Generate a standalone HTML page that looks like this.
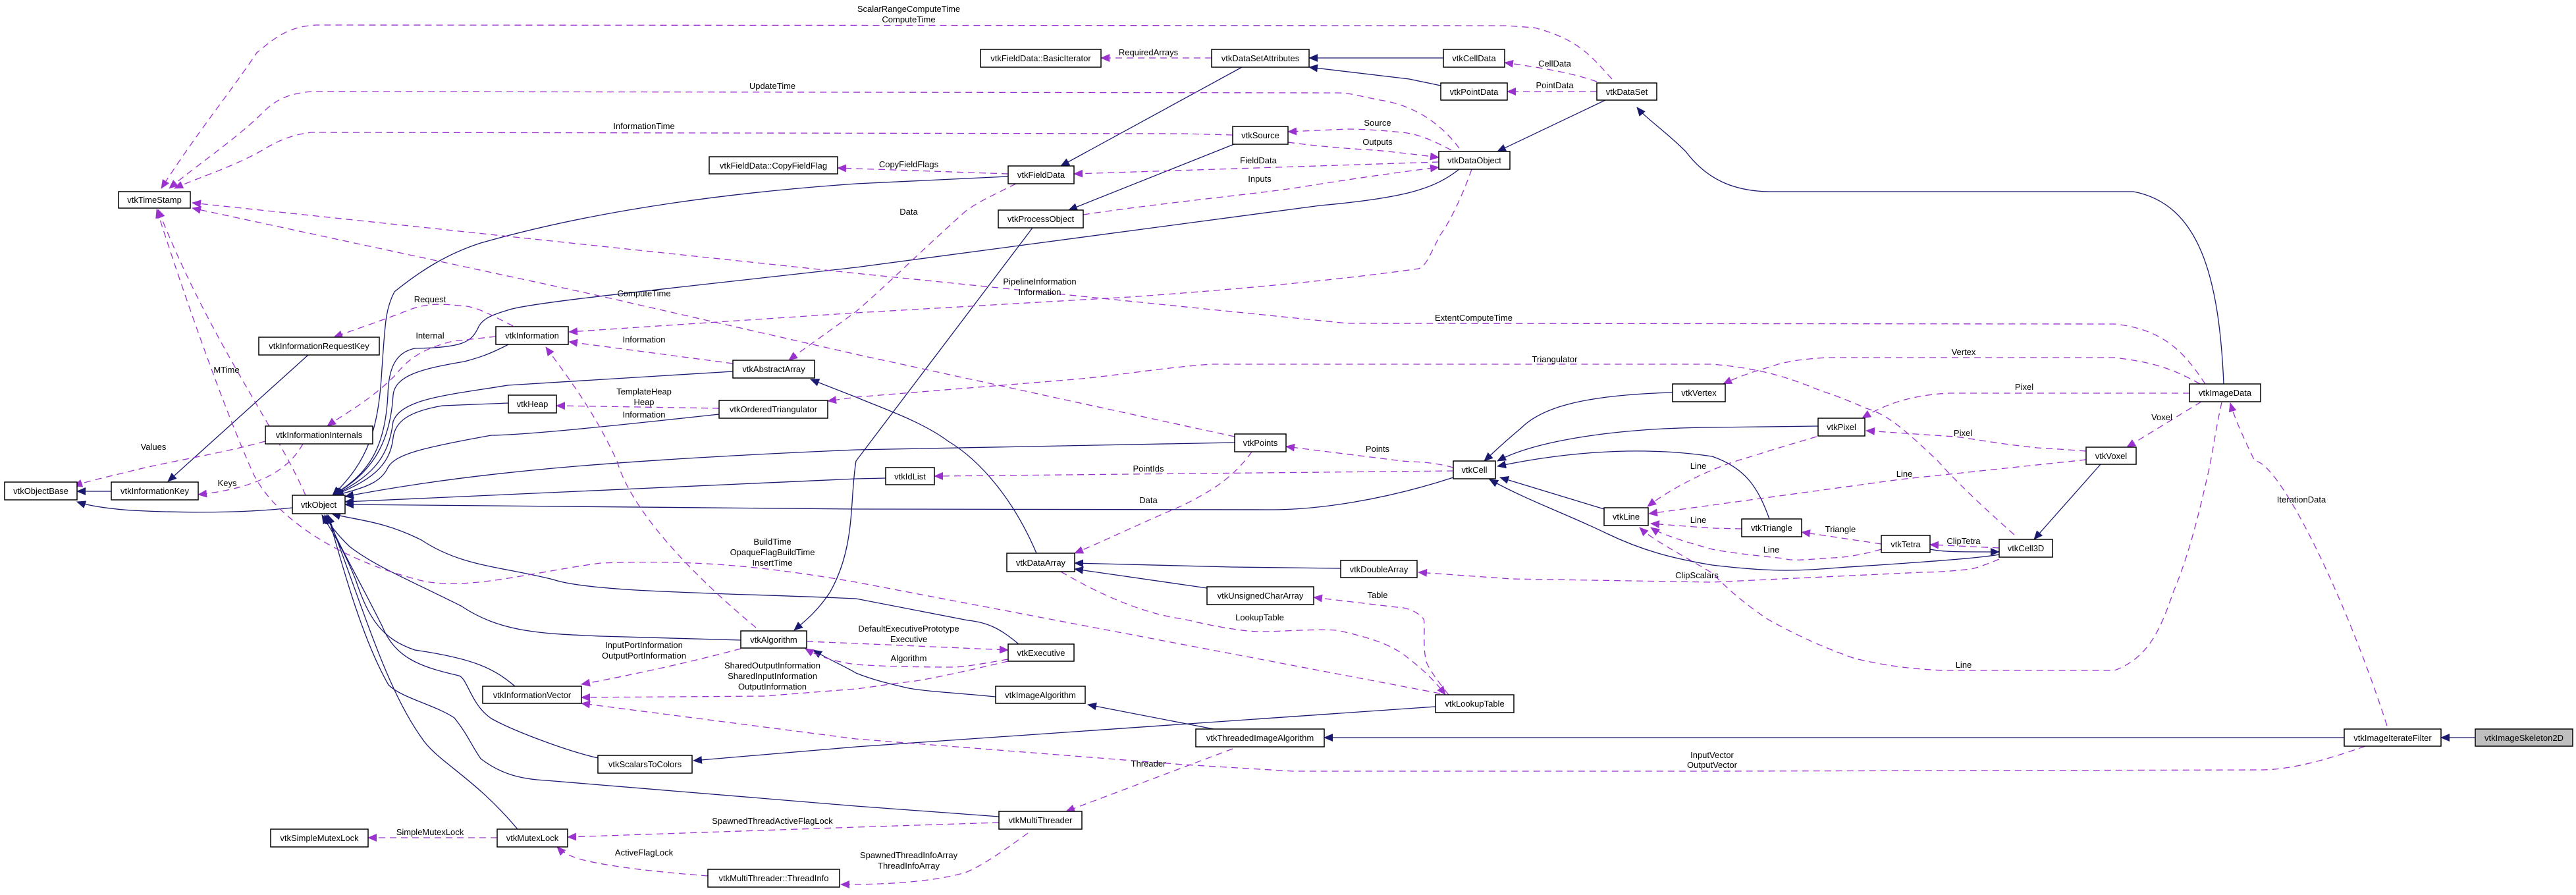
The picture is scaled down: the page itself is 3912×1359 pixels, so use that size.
<!DOCTYPE html>
<html><head><meta charset="utf-8"><style>
html,body{margin:0;padding:0;background:#fff;}
svg{display:block;}
text{font-family:"Liberation Sans",Arial,sans-serif;font-size:13px;fill:#000;}
.n{fill:#fff;stroke:#000;stroke-width:1.5;}
.b{fill:none;stroke:#191970;stroke-width:1.3;marker-end:url(#ab);}
.p{fill:none;stroke:#9a32cd;stroke-width:1.3;stroke-dasharray:10,7;marker-end:url(#ap);}
</style></head><body>
<svg width="3912" height="1359" viewBox="0 0 3912 1359" xmlns="http://www.w3.org/2000/svg">
<defs>
<marker id="ab" markerUnits="userSpaceOnUse" markerWidth="14" markerHeight="12" refX="13" refY="6" orient="auto"><path d="M0,0 L14,6 L0,12 z" fill="#191970"/></marker>
<marker id="ap" markerUnits="userSpaceOnUse" markerWidth="14" markerHeight="12" refX="13" refY="6" orient="auto"><path d="M0,0 L14,6 L0,12 z" fill="#9a32cd"/></marker>
</defs>

<!-- blue inheritance edges -->
<g>
<path class="b" d="M444,771 C380,778 300,780 200,775 C160,772 135,768 117,762"/>
<path class="b" d="M169,746 L117,746"/>
<path class="b" d="M468,539 L255,731"/>
<path class="b" d="M1531,268 L1300,279 C1000,300 821,343 730,369 C680,385 640,410 599,443 C585,470 585,491 580,560 C575,650 560,700 505,752"/>
<path class="b" d="M2216,257 C2180,285 2140,300 2005,312 L1300,406 C1000,440 800,460 771,471 C740,480 730,487 725,500 C715,520 700,528 630,529 C600,535 590,560 589,600 C585,680 560,720 505,752"/>
<path class="b" d="M772,523 C740,540 720,545 705,549 C640,560 600,570 597,600 C592,680 560,720 506,752"/>
<path class="b" d="M1113,564 L771,585 C680,600 610,605 597,640 C590,700 560,725 507,752"/>
<path class="b" d="M772,612 L672,616 C620,625 600,640 597,665 C592,710 560,730 508,752"/>
<path class="b" d="M1092,629 C900,650 800,660 746,661 C640,680 600,690 589,710 C580,730 560,740 509,752"/>
<path class="b" d="M1568,346 L1300,700 C1290,760 1300,830 1260,900 C1240,930 1220,945 1206,957"/>
<path class="b" d="M1874,219 L1623,319"/>
<path class="b" d="M1886,102 L1611,252"/>
<path class="b" d="M2192,88 L1988,88"/>
<path class="b" d="M2188,130 L2140,120 L1988,102"/>
<path class="b" d="M2438,152 L2274,230"/>
<path class="b" d="M3377,583 C3370,420 3340,310 3240,291 L2690,291 C2630,291 2590,270 2560,230 C2530,200 2500,180 2486,163"/>
<path class="b" d="M1345,726 L1300,727 L524,762"/>
<path class="b" d="M1875,672 L1300,683 C900,700 700,720 524,754"/>
<path class="b" d="M2207,725 C2100,760 2000,774 1930,774 L1300,773 L524,766"/>
<path class="b" d="M1574,840 C1540,760 1490,700 1440,670 C1400,640 1340,620 1300,603 L1231,576"/>
<path class="b" d="M2036,863 L1870,861 L1632,855"/>
<path class="b" d="M1833,893 L1632,864"/>
<path class="b" d="M2540,596 C2400,600 2340,620 2310,650 C2280,675 2265,690 2254,700"/>
<path class="b" d="M2761,647 L2600,649 C2450,650 2330,670 2274,700"/>
<path class="b" d="M2687,788 C2670,740 2650,710 2600,693 C2480,675 2360,690 2274,708"/>
<path class="b" d="M2436,773 L2278,725"/>
<path class="b" d="M3036,842 C3000,849 2850,858 2792,862 C2740,866 2700,870 2600,858 C2540,848 2494,836 2440,810 C2378,780 2320,760 2262,728"/>
<path class="b" d="M3190,705 L3089,819"/>
<path class="b" d="M2931,834 C2950,838 2968,838 3036,838"/>
<path class="b" d="M1547,978 C1520,955 1500,945 1470,942 L1300,909 C1100,900 900,900 840,880 C760,860 700,860 640,820 C580,790 540,790 504,780"/>
<path class="b" d="M1125,972 L912,966 C820,962 760,960 700,920 C620,880 570,860 531,830 C510,810 500,795 493,782"/>
<path class="b" d="M782,1042 C750,1015 720,1000 630,987 C580,970 560,940 540,880 C520,830 500,800 489,782"/>
<path class="b" d="M908,1151 C860,1140 780,1110 746,1091 C715,1070 710,1030 697,1026 C640,1013 600,1000 580,950 C540,870 510,820 496,782"/>
<path class="b" d="M1517,1240 L1300,1224 L829,1185 C790,1183 760,1175 730,1152 C715,1130 710,1115 690,1090 C660,1070 610,1060 590,1040 C550,970 520,860 498,782"/>
<path class="b" d="M786,1259 C720,1180 663,1156 640,1120 C590,1050 560,950 498,782"/>
<path class="b" d="M1512,1058 C1450,1052 1408,1050 1380,1045 C1340,1036 1320,1030 1300,1022 C1280,1010 1255,1000 1235,987"/>
<path class="b" d="M2180,1073 L1300,1134 L1053,1155"/>
<path class="b" d="M1843,1107 L1652,1070"/>
<path class="b" d="M3560,1120 L2011,1120"/>
<path class="b" d="M3759,1120 L3707,1120"/>
</g>

<!-- purple usage edges -->
<g>
<path class="p" d="M2448,120 C2420,90 2400,60 2330,42 L2287,39 L481,38 C440,40 420,55 390,80 C350,140 300,200 245,286"/>
<path class="p" d="M2216,225 C2190,190 2150,160 2096,152 C2060,145 2050,141 2030,141 L473,139 C440,142 420,150 400,170 C360,210 300,250 257,286"/>
<path class="p" d="M1872,205 L1797,203 L473,201 C440,205 420,215 395,230 C350,255 300,270 265,286"/>
<path class="p" d="M1875,663 L1300,538 L896,446 L292,316"/>
<path class="p" d="M3349,583 C3320,540 3290,500 3211,492 L2046,491 L1300,415 L292,308"/>
<path class="p" d="M464,752 C420,650 320,520 240,318"/>
<path class="p" d="M2187,1053 L1300,884 C1150,858 1050,850 912,855 C800,870 700,900 630,879 C520,850 420,790 385,720 C340,620 280,450 238,318"/>
<path class="p" d="M460,674 C440,710 400,740 301,751"/>
<path class="p" d="M403,670 C330,690 260,700 200,715 C160,725 135,730 112,738"/>
<path class="p" d="M779,495 C740,475 720,464 697,464 C660,460 640,462 610,475 C570,490 540,500 507,512"/>
<path class="p" d="M753,511 L688,518 C640,530 620,545 600,570 C560,610 520,630 497,647"/>
<path class="p" d="M1113,552 L864,519"/>
<path class="p" d="M2235,257 C2220,300 2200,340 2187,357 C2170,390 2165,405 2154,408 C2000,430 1800,445 1715,451 L1300,475 L864,504"/>
<path class="p" d="M1543,279 C1500,300 1480,310 1466,321 C1400,380 1350,430 1300,473 C1250,510 1220,530 1198,547"/>
<path class="p" d="M1092,620 L845,616"/>
<path class="p" d="M1148,953 C1060,880 960,780 937,700 C900,620 860,570 829,527"/>
<path class="p" d="M3059,812 C3000,760 2960,720 2943,700 C2900,660 2870,630 2834,620 C2800,605 2780,598 2767,594 C2720,575 2680,560 2600,553 L1839,553 C1750,560 1700,570 1632,576 L1300,603 L1257,609"/>
<path class="p" d="M3341,583 C3300,560 3270,550 3211,543 L2776,543 C2730,545 2700,552 2692,556 C2660,565 2640,572 2617,583"/>
<path class="p" d="M3325,597 L2960,597 C2900,600 2860,615 2828,635"/>
<path class="p" d="M3168,685 C3130,682 3110,681 3094,680 C3020,672 2990,665 2968,663 L2834,654"/>
<path class="p" d="M3343,610 L3230,679"/>
<path class="p" d="M3168,698 L2885,728 L2600,767 L2504,780"/>
<path class="p" d="M2759,663 C2700,680 2670,690 2650,696 C2600,710 2540,740 2502,769"/>
<path class="p" d="M2645,803 L2600,802 L2507,795"/>
<path class="p" d="M2857,834 C2820,845 2790,847 2784,847 C2740,850 2720,852 2709,848 C2650,842 2620,838 2600,834 C2550,820 2520,810 2507,801"/>
<path class="p" d="M3374,611 C3365,650 3360,690 3353,720 C3335,800 3320,853 3300,900 C3280,960 3260,1000 3211,1018 L2951,1018 C2880,1015 2840,1005 2817,1000 C2760,980 2720,960 2684,940 C2640,910 2620,890 2600,870 C2550,840 2510,820 2490,801"/>
<path class="p" d="M3036,849 C3010,860 2995,864 2993,864 C2960,868 2930,869 2918,869 L2600,884 L2295,879 L2154,869"/>
<path class="p" d="M2857,826 L2736,808"/>
<path class="p" d="M3036,832 L2931,827"/>
<path class="p" d="M2207,710 C2170,700 2150,702 2129,700 L1953,678"/>
<path class="p" d="M2207,715 L1419,723"/>
<path class="p" d="M1901,686 C1870,730 1830,750 1797,767 C1720,800 1680,820 1632,840"/>
<path class="p" d="M2200,1055 C2180,1030 2170,1015 2166,1005 C2160,980 2165,950 2162,940 C2150,925 2130,922 2121,922 L1995,907"/>
<path class="p" d="M1611,868 C1700,920 1760,935 1797,940 C1860,955 1900,960 1922,959 C1960,958 2000,955 2030,957 C2090,970 2110,980 2129,992 C2160,1015 2180,1035 2195,1055"/>
<path class="p" d="M1225,974 L1300,977 L1531,987"/>
<path class="p" d="M1531,1001 C1490,1008 1470,1012 1449,1013 C1400,1013 1340,1012 1300,1009 C1270,1005 1245,998 1223,985"/>
<path class="p" d="M1125,985 C1050,1005 960,1025 883,1039"/>
<path class="p" d="M1531,1004 C1470,1018 1420,1030 1383,1035 C1340,1040 1320,1044 1300,1046 L1161,1057 L883,1059"/>
<path class="p" d="M3592,1133 C3530,1155 3480,1168 3437,1169 L2600,1171 L1963,1171 L1797,1161 L1300,1122 L883,1068"/>
<path class="p" d="M3625,1102 C3560,900 3460,700 3424,700 C3410,670 3395,640 3387,612"/>
<path class="p" d="M1872,1137 L1619,1232"/>
<path class="p" d="M1517,1249 L1300,1256 L862,1271"/>
<path class="p" d="M755,1272 L559,1272"/>
<path class="p" d="M1075,1330 C1010,1325 990,1322 978,1321 C930,1315 900,1310 879,1304 C860,1298 852,1292 846,1286"/>
<path class="p" d="M1561,1265 C1520,1295 1490,1315 1466,1325 C1420,1338 1360,1342 1300,1343 L1277,1343"/>
<path class="p" d="M2204,228 C2170,210 2150,203 2129,201 C2090,197 2060,196 2046,196 L1956,200"/>
<path class="p" d="M1956,216 C2000,222 2050,226 2088,228 C2130,232 2160,236 2185,239"/>
<path class="p" d="M2185,246 L1631,264"/>
<path class="p" d="M1645,326 C1750,310 1900,295 1963,286 C2050,272 2120,262 2185,254"/>
<path class="p" d="M1531,264 L1300,256 L1272,255"/>
<path class="p" d="M1840,88 L1672,88"/>
<path class="p" d="M2425,124 C2380,108 2320,100 2285,95"/>
<path class="p" d="M2425,139 L2289,139"/>
</g>

<!-- nodes -->
<g>
<rect class="n" x="180" y="291" width="109" height="25"/><text x="234.5" y="308" text-anchor="middle">vtkTimeStamp</text>
<rect class="n" x="1077" y="238" width="195" height="26"/><text x="1174.5" y="256" text-anchor="middle">vtkFieldData::CopyFieldFlag</text>
<rect class="n" x="753" y="496" width="110" height="27"/><text x="808" y="514" text-anchor="middle">vtkInformation</text>
<rect class="n" x="393" y="512" width="183" height="27"/><text x="484.5" y="530" text-anchor="middle">vtkInformationRequestKey</text>
<rect class="n" x="1113" y="547" width="124" height="27"/><text x="1175" y="565" text-anchor="middle">vtkAbstractArray</text>
<rect class="n" x="772" y="600" width="73" height="27"/><text x="808.5" y="618" text-anchor="middle">vtkHeap</text>
<rect class="n" x="1092" y="608" width="165" height="27"/><text x="1174.5" y="626" text-anchor="middle">vtkOrderedTriangulator</text>
<rect class="n" x="403" y="647" width="163" height="27"/><text x="484.5" y="665" text-anchor="middle">vtkInformationInternals</text>
<rect class="n" x="1489" y="75" width="183" height="27"/><text x="1580.5" y="93" text-anchor="middle">vtkFieldData::BasicIterator</text>
<rect class="n" x="1840" y="75" width="148" height="27"/><text x="1914" y="93" text-anchor="middle">vtkDataSetAttributes</text>
<rect class="n" x="2192" y="75" width="93" height="27"/><text x="2238.5" y="93" text-anchor="middle">vtkCellData</text>
<rect class="n" x="2188" y="126" width="101" height="26"/><text x="2238.5" y="144" text-anchor="middle">vtkPointData</text>
<rect class="n" x="2425" y="126" width="91" height="26"/><text x="2470.5" y="144" text-anchor="middle">vtkDataSet</text>
<rect class="n" x="1872" y="192" width="84" height="27"/><text x="1914" y="210" text-anchor="middle">vtkSource</text>
<rect class="n" x="2185" y="230" width="108" height="27"/><text x="2239" y="248" text-anchor="middle">vtkDataObject</text>
<rect class="n" x="1531" y="252" width="100" height="27"/><text x="1581" y="270" text-anchor="middle">vtkFieldData</text>
<rect class="n" x="1516" y="319" width="129" height="27"/><text x="1580.5" y="337" text-anchor="middle">vtkProcessObject</text>
<rect class="n" x="1875" y="659" width="78" height="27"/><text x="1914" y="677" text-anchor="middle">vtkPoints</text>
<rect class="n" x="2540" y="583" width="80" height="27"/><text x="2580" y="601" text-anchor="middle">vtkVertex</text>
<rect class="n" x="3325" y="583" width="108" height="27"/><text x="3379" y="601" text-anchor="middle">vtkImageData</text>
<rect class="n" x="2761" y="635" width="71" height="27"/><text x="2796.5" y="653" text-anchor="middle">vtkPixel</text>
<rect class="n" x="3168" y="679" width="76" height="26"/><text x="3206" y="697" text-anchor="middle">vtkVoxel</text>
<rect class="n" x="7" y="732" width="110" height="27"/><text x="62" y="750" text-anchor="middle">vtkObjectBase</text>
<rect class="n" x="169" y="732" width="132" height="27"/><text x="235" y="750" text-anchor="middle">vtkInformationKey</text>
<rect class="n" x="444" y="752" width="80" height="28"/><text x="484" y="771" text-anchor="middle">vtkObject</text>
<rect class="n" x="1125" y="958" width="100" height="26"/><text x="1175" y="976" text-anchor="middle">vtkAlgorithm</text>
<rect class="n" x="733" y="1042" width="150" height="26"/><text x="808" y="1060" text-anchor="middle">vtkInformationVector</text>
<rect class="n" x="908" y="1147" width="143" height="27"/><text x="979.5" y="1165" text-anchor="middle">vtkScalarsToColors</text>
<rect class="n" x="411" y="1259" width="148" height="27"/><text x="485" y="1277" text-anchor="middle">vtkSimpleMutexLock</text>
<rect class="n" x="755" y="1259" width="107" height="27"/><text x="808.5" y="1277" text-anchor="middle">vtkMutexLock</text>
<rect class="n" x="1075" y="1320" width="200" height="27"/><text x="1175" y="1338" text-anchor="middle">vtkMultiThreader::ThreadInfo</text>
<rect class="n" x="1345" y="710" width="74" height="26"/><text x="1382" y="728" text-anchor="middle">vtkIdList</text>
<rect class="n" x="2207" y="700" width="64" height="27"/><text x="2239" y="718" text-anchor="middle">vtkCell</text>
<rect class="n" x="2436" y="771" width="67" height="27"/><text x="2469.5" y="789" text-anchor="middle">vtkLine</text>
<rect class="n" x="1529" y="840" width="103" height="28"/><text x="1580.5" y="859" text-anchor="middle">vtkDataArray</text>
<rect class="n" x="2036" y="851" width="116" height="26"/><text x="2094" y="869" text-anchor="middle">vtkDoubleArray</text>
<rect class="n" x="1833" y="891" width="162" height="27"/><text x="1914" y="909" text-anchor="middle">vtkUnsignedCharArray</text>
<rect class="n" x="1531" y="978" width="100" height="26"/><text x="1581" y="996" text-anchor="middle">vtkExecutive</text>
<rect class="n" x="1512" y="1042" width="136" height="26"/><text x="1580" y="1060" text-anchor="middle">vtkImageAlgorithm</text>
<rect class="n" x="2180" y="1055" width="119" height="27"/><text x="2239.5" y="1073" text-anchor="middle">vtkLookupTable</text>
<rect class="n" x="1816" y="1107" width="195" height="27"/><text x="1913.5" y="1125" text-anchor="middle">vtkThreadedImageAlgorithm</text>
<rect class="n" x="1517" y="1232" width="126" height="27"/><text x="1580" y="1250" text-anchor="middle">vtkMultiThreader</text>
<rect class="n" x="2645" y="788" width="91" height="27"/><text x="2690.5" y="806" text-anchor="middle">vtkTriangle</text>
<rect class="n" x="2857" y="813" width="74" height="26"/><text x="2894" y="831" text-anchor="middle">vtkTetra</text>
<rect class="n" x="3036" y="819" width="81" height="27"/><text x="3076.5" y="837" text-anchor="middle">vtkCell3D</text>
<rect class="n" x="3560" y="1107" width="147" height="26"/><text x="3633.5" y="1125" text-anchor="middle">vtkImageIterateFilter</text>
<rect class="n" x="3759" y="1107" width="148" height="26" style="fill:#bfbfbf"/><text x="3833" y="1125" text-anchor="middle">vtkImageSkeleton2D</text>
</g>

<!-- edge labels -->
<g text-anchor="middle">
<text x="1380" y="18">ScalarRangeComputeTime</text>
<text x="1380" y="34">ComputeTime</text>
<text x="1173" y="135">UpdateTime</text>
<text x="978" y="196">InformationTime</text>
<text x="978" y="450">ComputeTime</text>
<text x="653" y="459">Request</text>
<text x="653" y="514">Internal</text>
<text x="344" y="566">MTime</text>
<text x="978" y="520">Information</text>
<text x="978" y="599">TemplateHeap</text>
<text x="978" y="615">Heap</text>
<text x="978" y="634">Information</text>
<text x="233" y="683">Values</text>
<text x="1744" y="84">RequiredArrays</text>
<text x="2361" y="101">CellData</text>
<text x="2361" y="134">PointData</text>
<text x="2092" y="191">Source</text>
<text x="2092" y="220">Outputs</text>
<text x="1911" y="248">FieldData</text>
<text x="1380" y="254">CopyFieldFlags</text>
<text x="1913" y="276">Inputs</text>
<text x="1380" y="326">Data</text>
<text x="1579" y="432">PipelineInformation</text>
<text x="1579" y="448">Information</text>
<text x="2238" y="487">ExtentComputeTime</text>
<text x="2361" y="550">Triangulator</text>
<text x="2092" y="686">Points</text>
<text x="2982" y="539">Vertex</text>
<text x="3074" y="592">Pixel</text>
<text x="2981" y="662">Pixel</text>
<text x="3283" y="638">Voxel</text>
<text x="345" y="738">Keys</text>
<text x="1173" y="827">BuildTime</text>
<text x="1173" y="843">OpaqueFlagBuildTime</text>
<text x="1173" y="859">InsertTime</text>
<text x="978" y="984">InputPortInformation</text>
<text x="978" y="1000">OutputPortInformation</text>
<text x="1173" y="1015">SharedOutputInformation</text>
<text x="1173" y="1031">SharedInputInformation</text>
<text x="1173" y="1047">OutputInformation</text>
<text x="1173" y="1251">SpawnedThreadActiveFlagLock</text>
<text x="653" y="1268">SimpleMutexLock</text>
<text x="978" y="1299">ActiveFlagLock</text>
<text x="1744" y="716">PointIds</text>
<text x="1744" y="764">Data</text>
<text x="2579" y="712">Line</text>
<text x="2579" y="794">Line</text>
<text x="2577" y="878">ClipScalars</text>
<text x="2092" y="908">Table</text>
<text x="1913" y="942">LookupTable</text>
<text x="1380" y="959">DefaultExecutivePrototype</text>
<text x="1380" y="975">Executive</text>
<text x="1380" y="1004">Algorithm</text>
<text x="1744" y="1164">Threader</text>
<text x="2600" y="1151">InputVector</text>
<text x="2600" y="1166">OutputVector</text>
<text x="1380" y="1303">SpawnedThreadInfoArray</text>
<text x="1380" y="1319">ThreadInfoArray</text>
<text x="2892" y="724">Line</text>
<text x="2795" y="808">Triangle</text>
<text x="2982" y="826">ClipTetra</text>
<text x="2690" y="839">Line</text>
<text x="2982" y="1014">Line</text>
<text x="3495" y="763">IterationData</text>
</g>
</svg>
</body></html>
